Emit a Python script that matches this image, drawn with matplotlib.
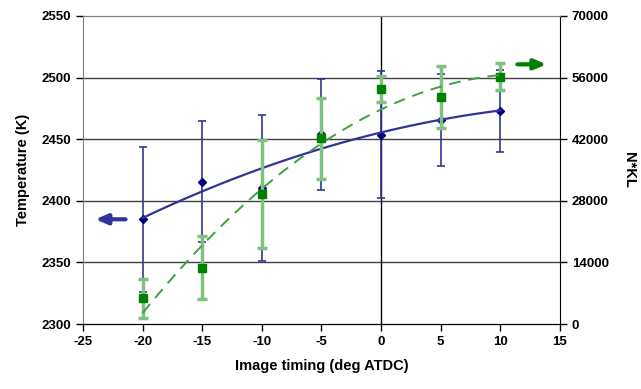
import numpy as np
import matplotlib
matplotlib.use("Agg")
import matplotlib.pyplot as plt

plt.rcParams['font.family'] = ['Liberation Sans', 'DejaVu Sans']
plt.rcParams['font.weight'] = 'bold'
plt.rcParams['axes.unicode_minus'] = False

timing = [-20, -15, -10, -5, 0, 5, 10]
temperature = [2385, 2415.5, 2410.5, 2454, 2453.5, 2465.5, 2473]
temp_err = [59, 49, 59.5, 45, 51.5, 37.5, 33.5]
nkl = [5840, 12800, 29480, 42200, 53350, 51530, 56200]
nkl_err = [4500, 7100, 12300, 9200, 3000, 7100, 3100]

blue = '#000080'
blue_line = '#333399'
green = '#008000'
green_err = '#80c080'

fig = plt.figure(figsize=(6.41, 3.89), dpi=100)
ax = fig.add_axes([0.1295, 0.167, 0.744, 0.792])
ax2 = ax.twinx()

ax.set_xlim(-25, 15)
ax.set_ylim(2300, 2550)
ax2.set_ylim(0, 70000)
ax.set_xticks(range(-25, 16, 5))
ax.set_yticks(range(2300, 2551, 50))
ax2.set_yticks(range(0, 70001, 14000))

for y in [2350, 2400, 2450, 2500]:
    ax.axhline(y, color='#404040', lw=1.0, zorder=0)
ax.axvline(0, color='black', lw=1.0, zorder=0)

# blue series
ax.errorbar(timing, temperature, yerr=temp_err, fmt='none', ecolor=blue_line,
            elinewidth=1.2, capsize=3, capthick=1.2, zorder=3)
ax.plot(timing, temperature, 'D', color=blue, ms=4.5, zorder=4)
cb = np.polyfit(timing, temperature, 2)
xs = np.linspace(min(timing), max(timing), 100)
ax.plot(xs, np.polyval(cb, xs), '-', color=blue_line, lw=1.6, zorder=4)

# green series
ax2.errorbar(timing, nkl, yerr=nkl_err, fmt='none', ecolor=green_err,
             elinewidth=2.5, capsize=3.5, capthick=2.5, zorder=3)
ax2.plot(timing, nkl, 's', color=green, ms=6, zorder=4)
cg = np.polyfit(timing, nkl, 2)
ax2.plot(xs, np.polyval(cg, xs), '--', color='#40a040', lw=1.4, dashes=(6, 4), zorder=4)

# arrows
ax.annotate('', xy=(-24.2, 2385), xytext=(-21.2, 2385), xycoords='data',
            arrowprops=dict(arrowstyle='-|>,head_length=0.7,head_width=0.3', color=blue_line, lw=3))
ax2.annotate('', xy=(14.1, 59000), xytext=(11.2, 59000), xycoords='data',
             arrowprops=dict(arrowstyle='-|>,head_length=0.7,head_width=0.3', color=green, lw=3))

for a in (ax, ax2):
    a.tick_params(direction='out', length=5, width=1, labelsize=9.5)
ax.spines['top'].set_color('#808080')
ax2.spines['top'].set_color('#808080')
ax.spines['left'].set_color('#808080')
ax2.spines['left'].set_visible(False)
ax2.spines['right'].set_color('black')
ax.spines['right'].set_visible(False)

for lab in ax.get_xticklabels() + ax.get_yticklabels() + ax2.get_yticklabels():
    lab.set_fontweight('bold')

ax.set_xlabel('Image timing (deg ATDC)', fontsize=10.5, fontweight='bold', labelpad=8)
ax.set_ylabel('Temperature (K)', fontsize=10.5, fontweight='bold', labelpad=8)
ax2.set_ylabel('N*KL', fontsize=10.5, fontweight='bold', rotation=270, labelpad=20)

fig.savefig('out.png', dpi=100)
